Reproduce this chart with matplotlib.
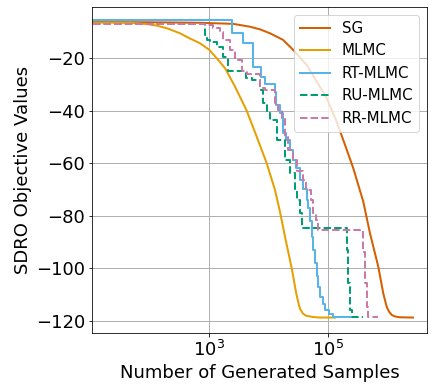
import matplotlib
matplotlib.use("Agg")
import matplotlib.pyplot as plt
from matplotlib.ticker import FixedLocator, NullLocator, LogFormatterMathtext

# ---- data ----
sg_n = [11, 100, 698, 2500, 4831, 7117, 10476, 17330, 27560, 43340, 63820,
        93970, 138400, 190900, 263000, 387000, 502200, 692000, 840000, 959000,
        1047000, 1164000, 1321000, 1604000, 2655000]
sg_v = [-6.2, -6.3, -6.5, -6.9, -8.0, -9.0, -10.5, -13.0, -17.5, -22.6, -28.9,
        -35.2, -44.2, -53.0, -61.9, -74.6, -86.7, -99.4, -109.6, -114.7,
        -116.5, -117.8, -118.4, -118.7, -118.8]

mlmc_n = [11, 46, 90, 132, 195, 322, 464, 698, 1000, 1331, 1837, 2704, 4253,
          6265, 9227, 12710, 15420, 18720, 24270, 29440, 33440, 37590, 42170,
          55330, 72580, 129700]
mlmc_v = [-6.4, -6.5, -7.0, -7.6, -8.6, -10.5, -12.4, -14.3, -16.8, -20.0,
          -23.8, -30.8, -40.0, -49.9, -60.0, -70.2, -78.5, -88.0, -100.0,
          -110.5, -115.5, -117.3, -118.1, -118.6, -118.8, -118.8]

rt_n = [11, 2378, 3727, 5485, 7311, 8635, 12710, 13210, 15420, 17330, 19450,
        22710, 25510, 28640, 33440, 37590, 43340, 45600, 49220, 52240, 55970,
        59700, 63820, 67920, 72580, 79960, 88100, 102800, 119900, 157400,
        231500]
rt_v = [-5.6, -10.5, -14.3, -23.3, -27.0, -30.0, -32.7, -38.0, -41.0, -48.6,
        -51.0, -55.0, -58.8, -62.0, -66.4, -70.0, -74.0, -77.0, -82.0, -88.0,
        -93.0, -98.0, -103.0, -107.0, -111.0, -113.5, -116.0, -117.5, -118.5,
        -118.6, -118.7]

ru_n = [11, 848, 916, 1027, 1346, 1698, 2062, 4140, 5224, 7117, 7993, 9334,
        10476, 13735, 18720, 22710, 27560, 29790, 33440, 36150, 206300,
        218400, 231500, 250200, 383000]
ru_v = [-7.0, -11.0, -13.0, -13.7, -15.6, -19.4, -25.0, -27.6, -28.3, -32.0,
        -37.0, -41.0, -43.5, -51.0, -58.8, -63.8, -70.2, -74.0, -79.0, -84.8,
        -93.0, -105.7, -115.9, -118.5, -118.6]

rr_n = [11, 848, 1153, 1514, 1698, 2229, 2704, 3548, 4302, 7117, 8635, 12710,
        14280, 16670, 18720, 21020, 25510, 29790, 37590, 42170, 51180, 55330,
        62090, 67140, 383000, 413800, 441800, 469600, 684000]
rr_v = [-6.9, -7.5, -8.6, -9.9, -13.0, -16.8, -20.7, -25.0, -26.0, -31.4,
        -32.1, -37.0, -39.7, -42.9, -49.9, -55.0, -58.8, -63.0, -66.4, -70.2,
        -74.0, -79.0, -81.6, -85.4, -93.7, -105.7, -114.7, -118.5, -118.6]

labels = ["SG", "MLMC", "RT-MLMC", "RU-MLMC", "RR-MLMC"]
colors = ["#D55E00", "#E69F00", "#56B4E9", "#009E73", "#CC79A7"]
xticks = [1e3, 1e5]
yticks = [-20, -40, -60, -80, -100, -120]

# ---- figure ----
W, H = 434, 392
fig = plt.figure(figsize=(W / 72, H / 72), dpi=72)
ax = fig.add_axes([92.3 / W, 1 - 333.3 / H, (426.7 - 92.3) / W, (333.3 - 7.3) / H])

ax.plot(sg_n, sg_v, color=colors[0], lw=2, label=labels[0])
ax.plot(mlmc_n, mlmc_v, color=colors[1], lw=2, label=labels[1])
ax.plot(rt_n, rt_v, color=colors[2], lw=2, drawstyle="steps-post", label=labels[2])
ax.plot(ru_n, ru_v, color=colors[3], lw=2, ls="--", drawstyle="steps-post", label=labels[3])
ax.plot(rr_n, rr_v, color=colors[4], lw=2, ls="--", drawstyle="steps-post", label=labels[4])

ax.set_xscale("log")
ax.set_xlim(10.8, 4.51e6)
ax.set_ylim(-124.8, -0.6)
ax.xaxis.set_major_locator(FixedLocator(xticks))
ax.xaxis.set_major_formatter(LogFormatterMathtext())
ax.xaxis.set_minor_locator(NullLocator())
ax.set_yticks(yticks)
ax.tick_params(labelsize=18)
ax.grid(True, color="#b0b0b0", lw=1)
ax.set_axisbelow(True)

ax.set_xlabel("Number of Generated Samples", fontsize=18)
ax.set_ylabel("SDRO Objective Values", fontsize=18)
ax.legend(loc="upper right", fontsize=15)

fig.savefig("out.png", dpi=72)
